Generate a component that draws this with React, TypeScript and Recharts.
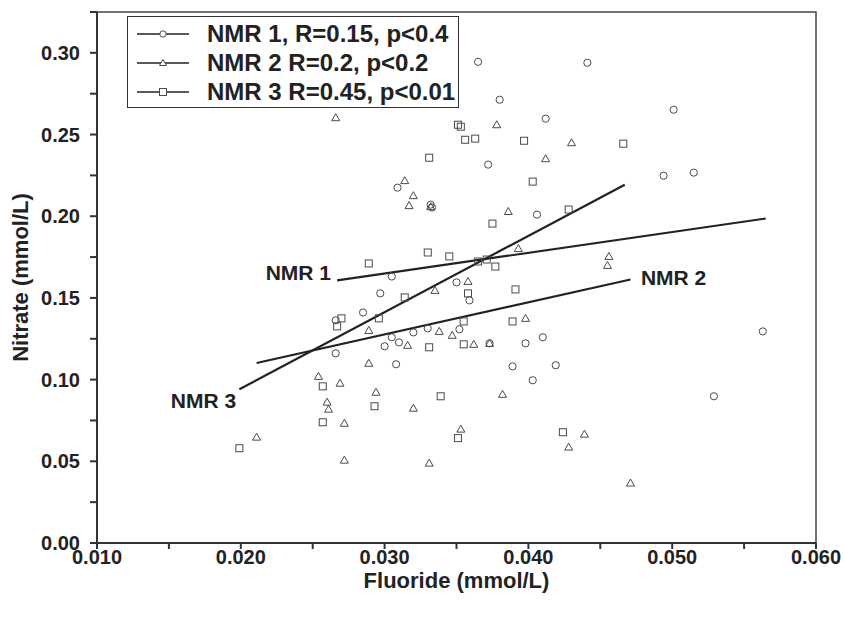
import {
  ScatterChart,
  Scatter,
  XAxis,
  YAxis,
  ReferenceLine,
  ReferenceArea,
  ReferenceDot,
} from 'recharts';

// Fluoride (x) and nitrate (y), mmol/L
const nmr1Fluoride = [0.0365, 0.0441, 0.038, 0.0412, 0.0501, 0.0372, 0.0494, 0.0515, 0.0309, 0.0332, 0.0333, 0.0406, 0.0305, 0.0297, 0.035, 0.0359, 0.0285, 0.0266, 0.0352, 0.032, 0.033, 0.0305, 0.031, 0.03, 0.0266, 0.0308, 0.0398, 0.041, 0.0389, 0.0419, 0.0403, 0.0563, 0.0529, 0.0373];
const nmr1Nitrate = [0.2945, 0.2939, 0.2713, 0.2597, 0.2652, 0.2316, 0.2248, 0.2267, 0.2175, 0.2071, 0.2053, 0.201, 0.1631, 0.1528, 0.1595, 0.1485, 0.1411, 0.1363, 0.1308, 0.1289, 0.1314, 0.1259, 0.1228, 0.1204, 0.1161, 0.1094, 0.1222, 0.1259, 0.1081, 0.1088, 0.0996, 0.1295, 0.0898, 0.1222];

const nmr2Fluoride = [0.0378, 0.0266, 0.043, 0.0412, 0.0314, 0.032, 0.0317, 0.0332, 0.0386, 0.0393, 0.0456, 0.0455, 0.0358, 0.0335, 0.0398, 0.0338, 0.0347, 0.0316, 0.0362, 0.0373, 0.0289, 0.0289, 0.0254, 0.0269, 0.0294, 0.026, 0.0261, 0.032, 0.0272, 0.0211, 0.0272, 0.0353, 0.0331, 0.0382, 0.0439, 0.0428, 0.0471];
const nmr2Nitrate = [0.256, 0.2603, 0.245, 0.2352, 0.2218, 0.2126, 0.2065, 0.2059, 0.2029, 0.1802, 0.1754, 0.1699, 0.1601, 0.1546, 0.1375, 0.1295, 0.1271, 0.121, 0.1216, 0.1222, 0.1301, 0.11, 0.102, 0.0978, 0.0923, 0.0862, 0.0819, 0.0825, 0.0733, 0.0648, 0.0507, 0.0697, 0.0489, 0.091, 0.0666, 0.0587, 0.0367];

const nmr3Fluoride = [0.0353, 0.0351, 0.0356, 0.0363, 0.0397, 0.0466, 0.0331, 0.0403, 0.0428, 0.0375, 0.033, 0.0345, 0.0289, 0.0365, 0.0371, 0.0377, 0.0314, 0.0358, 0.0391, 0.027, 0.0267, 0.0296, 0.0355, 0.0389, 0.0331, 0.0355, 0.0257, 0.0293, 0.0339, 0.0257, 0.0199, 0.0351, 0.0424];
const nmr3Nitrate = [0.2548, 0.256, 0.2468, 0.2475, 0.2462, 0.2444, 0.2358, 0.2212, 0.2041, 0.1955, 0.1778, 0.1754, 0.1711, 0.1723, 0.1735, 0.1692, 0.1503, 0.1528, 0.1552, 0.1375, 0.1326, 0.1375, 0.1356, 0.1356, 0.1198, 0.1216, 0.0959, 0.0837, 0.0898, 0.0739, 0.058, 0.0642, 0.0678];

// regression line end points
const nmr1FitX = [0.0267, 0.0565];
const nmr1FitY = [0.1607, 0.1986];
const nmr2FitX = [0.0211, 0.0471];
const nmr2FitY = [0.1102, 0.1613];
const nmr3FitX = [0.0199, 0.0467];
const nmr3FitY = [0.0941, 0.2193];

// in-plot line labels: [x, y]
const lineLabels = [
  { name: 'NMR 1', at: [0.024, 0.1656] },
  { name: 'NMR 2', at: [0.0501, 0.1625] },
  { name: 'NMR 3', at: [0.0174, 0.0874] },
];

const legendItems = [
  { text: 'NMR 1, R=0.15, p<0.4', shape: 'circle' },
  { text: 'NMR 2 R=0.2, p<0.2', shape: 'triangle' },
  { text: 'NMR 3 R=0.45, p<0.01', shape: 'square' },
];

const xTicks = [0.01, 0.015, 0.02, 0.025, 0.03, 0.035, 0.04, 0.045, 0.05, 0.055, 0.06];
const yTicks = [0, 0.025, 0.05, 0.075, 0.1, 0.125, 0.15, 0.175, 0.2, 0.225, 0.25, 0.275, 0.3, 0.325];

const toPoints = (xs: number[], ys: number[]) => xs.map((x, i) => ({ x, y: ys[i] }));
const fitSegment = (xs: number[], ys: number[]) => [
  { x: xs[0], y: ys[0] },
  { x: xs[1], y: ys[1] },
];

const INK = '#222';
const MARK = '#4a4a4a';
const FONT = "'Liberation Sans', Arial, sans-serif";

const Circ = (p: any) => <circle cx={p.cx} cy={p.cy} r={3.6} fill="none" stroke={MARK} strokeWidth={1} />;
const Tri = (p: any) => (
  <path
    d={`M${p.cx},${p.cy - 4} L${p.cx + 4},${p.cy + 3} L${p.cx - 4},${p.cy + 3} Z`}
    fill="none"
    stroke={MARK}
    strokeWidth={1}
  />
);
const Sq = (p: any) => (
  <rect x={p.cx - 3.5} y={p.cy - 3.5} width={7} height={7} fill="none" stroke={MARK} strokeWidth={1} />
);

function LegendSymbol({ shape }: { shape: string }) {
  return (
    <svg width={52} height={12} style={{ display: 'block' }}>
      <line x1={0} y1={6} x2={52} y2={6} stroke={INK} strokeWidth={1.5} />
      {shape === 'circle' && <circle cx={26} cy={6} r={3.2} fill="#fff" stroke={MARK} />}
      {shape === 'triangle' && <path d="M26,2.5 L29.5,8.5 L22.5,8.5 Z" fill="#fff" stroke={MARK} />}
      {shape === 'square' && <rect x={22.5} y={2.5} width={7} height={7} fill="#fff" stroke={MARK} />}
    </svg>
  );
}

const xFmt = (v: number) => (Math.round(v * 1000) % 10 === 0 ? v.toFixed(3) : '');
const yFmt = (v: number) => (Math.round(v * 1000) % 50 === 0 ? v.toFixed(2) : '');

export default function App() {
  const tickStyle = { fill: INK, fontSize: 20, fontWeight: 700 };
  return (
    <div style={{ position: 'absolute', left: 0, top: 0, width: 845, height: 620, fontFamily: FONT }}>
      <ScatterChart width={845} height={620} margin={{ top: 12, right: 29, left: 0, bottom: 0 }}>
        <XAxis
          type="number"
          dataKey="x"
          domain={[0.01, 0.06]}
          ticks={xTicks}
          interval={0}
          tickFormatter={xFmt}
          allowDataOverflow
          height={77}
          stroke="#333"
          strokeWidth={2}
          tickSize={6}
          tickMargin={1}
          tick={tickStyle}
          label={{ value: 'Fluoride (mmol/L)', position: 'insideBottom', offset: 32, fill: INK, fontSize: 22, fontWeight: 700 }}
        />
        <YAxis
          type="number"
          dataKey="y"
          domain={[0, 0.325]}
          ticks={yTicks}
          interval={0}
          tickFormatter={yFmt}
          allowDataOverflow
          width={97}
          stroke="#333"
          strokeWidth={2}
          tickSize={7}
          tickMargin={10}
          tick={tickStyle}
          label={{
            value: 'Nitrate (mmol/L)',
            angle: -90,
            position: 'insideLeft',
            offset: 20,
            fill: INK,
            fontSize: 22,
            fontWeight: 700,
            style: { textAnchor: 'middle' },
          }}
        />
        <ReferenceArea x1={0.01} x2={0.06} y1={0} y2={0.325} fill="none" stroke="#444" strokeWidth={1.5} />
        <Scatter data={toPoints(nmr1Fluoride, nmr1Nitrate)} shape={Circ} isAnimationActive={false} />
        <Scatter data={toPoints(nmr2Fluoride, nmr2Nitrate)} shape={Tri} isAnimationActive={false} />
        <Scatter data={toPoints(nmr3Fluoride, nmr3Nitrate)} shape={Sq} isAnimationActive={false} />
        <ReferenceLine segment={fitSegment(nmr1FitX, nmr1FitY)} stroke={INK} strokeWidth={2.2} />
        <ReferenceLine segment={fitSegment(nmr2FitX, nmr2FitY)} stroke={INK} strokeWidth={2.2} />
        <ReferenceLine segment={fitSegment(nmr3FitX, nmr3FitY)} stroke={INK} strokeWidth={2.2} />
        {lineLabels.map((l) => (
          <ReferenceDot
            key={l.name}
            x={l.at[0]}
            y={l.at[1]}
            r={0}
            fill="none"
            stroke="none"
            label={{ value: l.name, position: 'center', fill: INK, fontSize: 21, fontWeight: 700 }}
          />
        ))}
      </ScatterChart>
      <div
        style={{
          position: 'absolute',
          left: 127,
          top: 16,
          width: 332,
          height: 92,
          boxSizing: 'border-box',
          border: '1.5px solid #333',
          background: '#fff',
        }}
      >
        {legendItems.map((item, i) => (
          <div
            key={item.text}
            style={{
              position: 'absolute',
              left: 9,
              top: 3 + i * 29,
              height: 28,
              display: 'flex',
              alignItems: 'center',
              whiteSpace: 'nowrap',
            }}
          >
            <LegendSymbol shape={item.shape} />
            <span style={{ marginLeft: 18, fontSize: 24, fontWeight: 700, color: INK }}>{item.text}</span>
          </div>
        ))}
      </div>
    </div>
  );
}
